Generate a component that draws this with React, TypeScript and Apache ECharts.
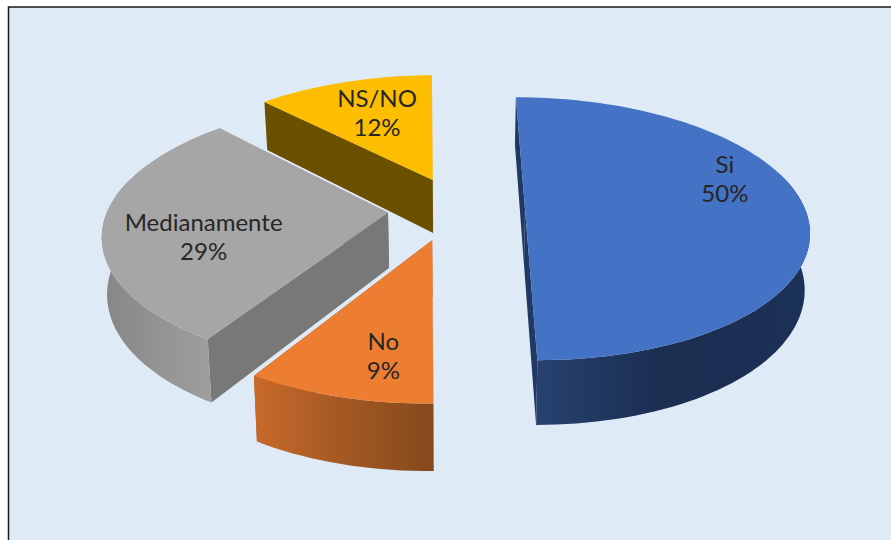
import React, { useEffect, useRef } from "react";
import * as echarts from "echarts";

const categories = ["Si", "No", "Medianamente", "NS/NO"];
const percents = [50, 9, 29, 12];

// Exploded position of each slice's tip on the pie plane (x in px, y in radii).
const sliceShiftX = [70, -22, -66.7, -23];
const sliceShiftY = [0, 0.234, 0.03, -0.234];
const sliceTurn = [0, 0.9, 0.5, 0.9];
const labelOffsetX = [0.75, -0.14, -0.632, -0.232];
const labelOffsetY = [-0.25, 0.737, 0.175, -0.617];
const sliceLayer = [1, 3, 4, 2];

const topColors = ["#4472C4", "#ED7D31", "#A6A6A6", "#FDBD00"];
const cutColors = ["#1F3864", "#A85A22", "#787878", "#6B5000"];
const wallStops = [
  ["#27416F", "#1B2E52", "#1C3156"],
  ["#C96A2A", "#A65A24", "#84491C"],
  ["#858585", "#929292", "#9E9E9E"],
  ["#7F6000", "#7F6000", "#7F6000"],
];

// Projection of the tilted pie.
const CX = 455;
const CY = 209;
const RADIUS = 280;
const RY = 128.5;
const PERSPECTIVE = 0.15;
const DEPTH = 55;
const BASE_SHRINK = 0.985;

function project(x: number, y: number, lower: boolean) {
  const w = 1 / (1 - PERSPECTIVE * y);
  if (lower) {
    return [CX + x * w * BASE_SHRINK, CY + y * RY * w + DEPTH * w];
  }
  return [CX + x * w, CY + y * RY * w];
}

function renderSlice(params: any, api: any) {
  const i = params.dataIndex;
  const share = api.value(0);
  const before = percents.slice(0, i).reduce((a, b) => a + b, 0);
  const total = percents.reduce((a, b) => a + b, 0);
  const turn = (sliceTurn[i] * Math.PI) / 180;
  const a0 = (before / total) * Math.PI * 2 - turn;
  const a1 = ((before + share) / total) * Math.PI * 2 - turn;
  const sx = sliceShiftX[i];
  const sy = sliceShiftY[i];
  const steps = Math.max(8, Math.round(share * 2));
  const rim: number[][] = [];
  for (let k = 0; k <= steps; k++) {
    const a = a0 + ((a1 - a0) * k) / steps;
    rim.push([sx + RADIUS * Math.sin(a), sy - Math.cos(a)]);
  }
  const topRim = rim.map((p) => project(p[0], p[1], false));
  const lowRim = rim.map((p) => project(p[0], p[1], true));
  const tipTop = project(sx, sy, false);
  const tipLow = project(sx, sy, true);
  const z = sliceLayer[i] * 10;
  const stops = wallStops[i];
  const wallFill = new echarts.graphic.LinearGradient(0, 0, 1, 0, [
    { offset: 0, color: stops[0] },
    { offset: 0.45, color: stops[1] },
    { offset: 1, color: stops[2] },
  ]);
  const cutFace = (a: number[], b: number[]) => ({
    type: "polygon",
    z2: z,
    shape: { points: [tipTop, a, b, tipLow] },
    style: { fill: cutColors[i] },
  });
  const frontTop: number[][] = [];
  const frontLow: number[][] = [];
  rim.forEach((p, k) => {
    if (-Math.cos(a0 + ((a1 - a0) * k) / steps) >= -0.3) {
      frontTop.push(topRim[k]);
      frontLow.push(lowRim[k]);
    }
  });
  const lx = sx + labelOffsetX[i] * RADIUS;
  const ly = sy + labelOffsetY[i];
  const at = project(lx, ly, false);
  return {
    type: "group",
    children: [
      cutFace(topRim[0], lowRim[0]),
      cutFace(topRim[steps], lowRim[steps]),
      {
        type: "polygon",
        z2: z + 1,
        shape: { points: [...frontTop, ...frontLow.reverse()] },
        style: { fill: wallFill },
      },
      {
        type: "polygon",
        z2: z + 2,
        shape: { points: [tipTop, ...topRim] },
        style: { fill: topColors[i] },
      },
      {
        type: "text",
        z2: 100,
        x: at[0],
        y: at[1],
        style: {
          text: `${categories[i]}\n${share}%`,
          fill: "#262626",
          font: '24px "Lato"',
          lineHeight: 29,
          align: "center",
          verticalAlign: "middle",
        },
      },
    ],
  };
}

export default function App() {
  const ref = useRef<HTMLDivElement>(null);
  useEffect(() => {
    const chart = echarts.init(ref.current!, undefined, { renderer: "svg" });
    chart.setOption({
      animation: false,
      backgroundColor: "#FFFFFF",
      graphic: [
        {
          type: "rect",
          z: -1,
          shape: { x: 8.5, y: 7, width: 890, height: 540 },
          style: { fill: "#DEEAF6", stroke: "#1A1A1A", lineWidth: 1.5 },
        },
      ],
      series: [
        {
          type: "custom",
          coordinateSystem: "none",
          silent: true,
          data: percents.map((v) => [v]),
          renderItem: renderSlice,
        },
      ],
    });
    return () => chart.dispose();
  }, []);
  return (
    <div
      ref={ref}
      style={{ position: "fixed", left: 0, top: 0, width: 891, height: 540 }}
    />
  );
}
